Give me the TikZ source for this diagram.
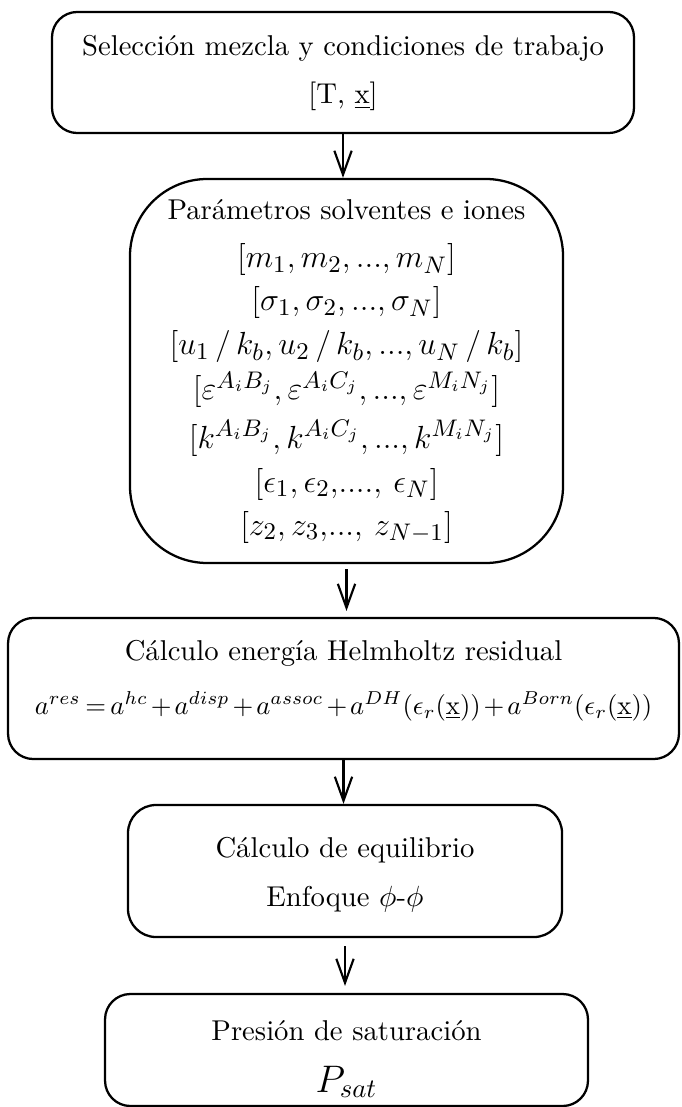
\documentclass[tikz,border=0pt]{standalone}
\usetikzlibrary{arrows.meta}
\begin{document}
\begin{tikzpicture}[x=0.375pt,y=-0.375pt,
  box/.style={draw, line width=0.85pt, rounded corners=9.5pt, inner sep=0pt},
  txt/.style={anchor=base, inner sep=0pt, font=\fontsize{10.75}{12}\selectfont},
  mth/.style={anchor=base, inner sep=0pt, font=\fontsize{13}{15}\selectfont},
  arr/.style={-{Straight Barb[length=9pt,width=6.5pt]}, line width=0.8pt}]
\useasboundingbox (0,0) rectangle (681,1107);
% boxes
\node[box, minimum width=218.25pt, minimum height=45.4pt] (b1) at (343,72.5) {};
\node[box, rounded corners=29pt, minimum width=162.4pt, minimum height=144pt] (b2) at (346.5,371) {};
\node[box, minimum width=251.6pt, minimum height=52.9pt] (b3) at (343.5,688.5) {};
\node[box, rounded corners=10.5pt, minimum width=162.75pt, minimum height=49.5pt] (b4) at (345,871) {};
\node[box, minimum width=181.1pt, minimum height=42pt] (b5) at (346.5,1050) {};
% texts
\node[txt] (t1a) at (343,56) {Selección mezcla y condiciones de trabajo};
\node[txt] (t1b) at (343,104) {[T, \underline{x}]};
\node[txt] (t2a) at (346.5,220) {Parámetros solventes e iones};
\node[mth] (t2b) at (346.5,268) {$[m_1, m_2, ..., m_N]$};
\node[mth] (t2c) at (346.5,311) {$[\sigma_1, \sigma_2, ..., \sigma_N]$};
\node[mth] (t2d) at (346.5,355) {$[u_1\,/\,k_b, u_2\,/\,k_b, ..., u_N\,/\,k_b]$};
\node[mth] (t2e) at (346.5,400) {$[\varepsilon^{A_iB_j}, \varepsilon^{A_iC_j}, ..., \varepsilon^{M_iN_j}]$};
\node[mth] (t2f) at (346.5,448) {$[k^{A_iB_j}, k^{A_iC_j}, ..., k^{M_iN_j}]$};
\node[mth] (t2g) at (346.5,492) {$[\epsilon_1, \epsilon_2{,}....{,}\ \epsilon_N]$};
\node[mth] (t2h) at (346.5,535) {$[z_2, z_3{,}...{,}\ z_{N-1}]$};
\node[txt] (t3a) at (343.5,660) {Cálculo energía Helmholtz residual};
\node[mth, font=\fontsize{10.1}{13}\selectfont] (t3b) at (343.5,714) {$\thickmuskip=3mu\medmuskip=2mu a^{res} = a^{hc} + a^{disp} + a^{assoc} + a^{DH}(\epsilon_r(\underline{\mathrm{x}})) + a^{Born}(\epsilon_r(\underline{\mathrm{x}}))$};
\node[txt] (t4a) at (345,857) {Cálculo de equilibrio};
\node[txt] (t4b) at (345,906) {Enfoque $\phi$-$\phi$};
\node[txt] (t5a) at (346.5,1040) {Presión de saturación};
\node[mth, font=\fontsize{14}{16}\selectfont] (t5b) at (346.5,1092) {$P_{sat}$};
% connectors
\draw[arr] (b1.south) -- (b1.south |- b2.north);
\draw[arr, shorten <=1.9pt, shorten >=2.2pt] (b2.south) -- (b2.south |- b3.north);
\draw[arr] (b3.south) -- (b3.south |- b4.north);
\draw[arr, shorten <=3pt, shorten >=2.6pt] (b4.south) -- (b4.south |- b5.north);
\end{tikzpicture}
\end{document}
